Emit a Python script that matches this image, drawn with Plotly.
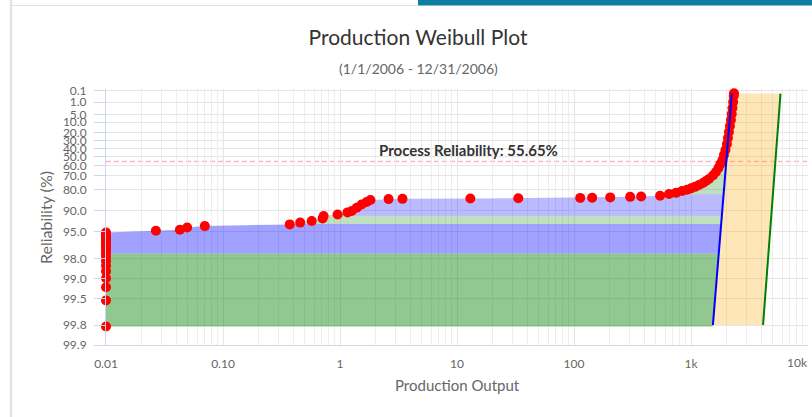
import numpy as np
import plotly.graph_objects as go

# ---- data -------------------------------------------------------------
# Daily production output (days with no output sit on the 0.01 floor)
output = [
    0.01, 0.01, 0.01, 0.01, 0.01, 0.01, 0.01, 0.01, 0.01,
    0.01, 0.01, 0.01, 0.01, 0.01, 0.01, 0.01, 0.01, 0.01,
    0.0267, 0.0428, 0.0494, 0.0699, 0.372, 0.457, 0.573, 0.710, 0.724,
    0.954, 1.16, 1.26, 1.39, 1.53, 1.69, 1.82, 2.60, 3.42, 13.0, 33.4,
    113, 143, 204, 302, 375, 544, 649, 745, 838, 925, 1000, 1082, 1170,
    1266, 1343, 1424, 1541, 1634, 1716, 1785, 1857, 1912, 1970, 2029,
    2069, 2110, 2152, 2194, 2229, 2260, 2291, 2318, 2330,
]
# Plotted reliability (%) for each day
reliability_pct = [
    99.81, 99.53, 99.26, 98.99, 98.71, 98.44, 98.17, 97.89, 97.62,
    97.35, 97.07, 96.80, 96.52, 96.25, 95.98, 95.70, 95.43, 95.16,
    94.85, 94.68, 94.23, 93.97, 93.61, 93.22, 92.86, 92.24, 91.57,
    91.13, 90.47, 90.05, 88.91, 87.69, 86.65, 85.76, 85.30, 85.20, 85.06, 84.92,
    84.72, 84.64, 84.48, 84.22, 84.02, 83.61, 82.76, 82.09, 81.06, 80.27, 79.40,
    78.42, 77.21, 75.79, 74.28, 72.71, 69.77, 66.59, 62.68, 58.46, 53.96, 48.00,
    41.76, 34.11, 26.58, 19.53, 13.38, 8.39, 4.73, 2.33, 0.97, 0.33, 0.19,
]

# Demonstrated (blue) and nameplate (green) lines: output at the two reliability ends
line_rel_ends = [99.8, 0.2]
demonstrated_ends = [1539, 2234]
nameplate_ends = [4129, 5821]

process_reliability = 55.65

# Loss bands below the data curve (reliability edges, %)
band_edges = [99.81, 97.62, 93.5, 91.5, 82.8, process_reliability]
band_colors = [
    "rgba(0,128,0,0.43)",
    "rgba(0,0,255,0.37)",
    "rgba(0,128,0,0.25)",
    "rgba(0,0,255,0.27)",
    "rgba(0,128,0,0.25)",
]

y_ticks_pct = [0.1, 1, 5, 10, 20, 30, 40, 50, 60, 70, 80, 90, 95, 98, 99, 99.5, 99.8, 99.9]
x_ticks = [0.01, 0.1, 1, 10, 100, 1000]
x_tick_text = ["0.01", "0.10", "1", "10", "100", "1k"]


# ---- Weibull paper scale --------------------------------------------------
def weib(r_pct):
    r = np.asarray(r_pct, dtype=float) / 100.0
    return np.log(-np.log(r))


curve_w = weib(reliability_pct)
curve_lx = np.log10(output)
line_w = weib(line_rel_ends)          # increasing: bottom end first
dem_lx = np.log10(demonstrated_ends)
nam_lx = np.log10(nameplate_ends)


def dem_at(w):
    return np.interp(w, line_w, dem_lx)


def band_polygon(r_lo, r_hi):
    w_lo, w_hi = float(weib(r_lo)), float(weib(r_hi))
    inner = curve_w[(curve_w > w_lo) & (curve_w < w_hi)]
    ws = np.concatenate([[w_lo], inner, [w_hi]])
    left = np.minimum(np.interp(ws, curve_w, curve_lx), dem_at(ws))
    xs = list(10 ** left) + [10 ** dem_at(w_hi), 10 ** dem_at(w_lo)]
    ys = list(ws) + [w_hi, w_lo]
    return xs, ys


fig = go.Figure()

# Efficiency / utilisation gap between the two lines
fig.add_trace(go.Scatter(
    x=[demonstrated_ends[0], nameplate_ends[0], nameplate_ends[1], demonstrated_ends[1]],
    y=[line_w[0], line_w[0], line_w[1], line_w[1]],
    fill="toself", fillcolor="rgba(255,165,0,0.28)", line=dict(width=0),
    mode="lines", hoverinfo="skip", showlegend=False,
))

# Loss bands
for (r_lo, r_hi), col in zip(zip(band_edges[:-1], band_edges[1:]), band_colors):
    bx, by = band_polygon(r_lo, r_hi)
    fig.add_trace(go.Scatter(
        x=bx, y=by, fill="toself", fillcolor=col, line=dict(width=0),
        mode="lines", hoverinfo="skip", showlegend=False,
    ))

# Daily points
fig.add_trace(go.Scatter(
    x=output, y=curve_w, mode="markers", cliponaxis=False,
    marker=dict(color="#ff0000", size=10, line=dict(width=0)),
    showlegend=False,
))

# Demonstrated and nameplate lines
fig.add_trace(go.Scatter(
    x=demonstrated_ends, y=line_w, mode="lines",
    line=dict(color="#0000ff", width=2), showlegend=False,
))
fig.add_trace(go.Scatter(
    x=nameplate_ends, y=line_w, mode="lines",
    line=dict(color="#008000", width=2), showlegend=False,
))

w_proc = float(weib(process_reliability))
fig.add_shape(type="line", xref="paper", x0=0, x1=1, yref="y", y0=w_proc, y1=w_proc,
              line=dict(color="#ffb3bf", width=1.5, dash="5px,3px"), layer="below")

FONT = "Lato, 'Open Sans', sans-serif"
W, H = 812, 417
L, R, T, B = 106, 4, 89, 72
PW, PH = W - L - R, H - T - B


def px_x(px):
    return (px - L) / PW


def px_y(py):
    return (H - B - py) / PH


annotations = [
    dict(text="(1/1/2006 - 12/31/2006)", xref="paper", yref="paper",
         x=px_x(418), y=px_y(68), xanchor="center", yanchor="middle", showarrow=False,
         font=dict(family=FONT, size=14, color="#666666")),
    dict(text="<b>Process Reliability: 55.65%</b>", xref="paper", yref="y",
         x=px_x(468), y=w_proc, xanchor="center", yanchor="bottom", yshift=1, showarrow=False,
         font=dict(family=FONT, size=15, color="#333333")),
    dict(text="10k", xref="paper", yref="paper", x=px_x(797), y=px_y(362),
         xanchor="center", yanchor="middle", showarrow=False,
         font=dict(family=FONT, size=12, color="#666666")),
    dict(text="Production Output", xref="paper", yref="paper", x=px_x(457), y=px_y(385),
         xanchor="center", yanchor="middle", showarrow=False,
         font=dict(family=FONT, size=15, color="#666666")),
    dict(text="Reliability (%)", xref="paper", yref="paper", x=px_x(45), y=px_y(217),
         xanchor="center", yanchor="middle", textangle=-90, showarrow=False,
         font=dict(family=FONT, size=16, color="#666666")),
]

shapes = [
    # header accent bar and tab rule
    dict(type="rect", xref="paper", yref="paper", x0=px_x(418), x1=px_x(W + 2),
         y0=px_y(5.5), y1=px_y(-1), fillcolor="#0e7ea0", line=dict(width=0), layer="above"),
    dict(type="line", xref="paper", yref="paper", x0=px_x(11), x1=px_x(418),
         y0=px_y(5.5), y1=px_y(5.5), line=dict(color="#e0e0e0", width=1)),
    # panel border on the left
    dict(type="line", xref="paper", yref="paper", x0=px_x(11), x1=px_x(11),
         y0=px_y(H + 2), y1=px_y(-2), line=dict(color="#e3e3e3", width=2.5)),
]
for s in shapes:
    fig.add_shape(**s)

minor_x = [m * 10.0 ** e for e in range(-2, 4) for m in range(2, 10)]

fig.update_layout(
    width=W, height=H,
    margin=dict(l=L, r=R, t=T, b=B),
    paper_bgcolor="#ffffff", plot_bgcolor="#ffffff",
    font=dict(family=FONT, color="#666666"),
    title=dict(text="Production Weibull Plot", xref="container", yref="container",
               x=418 / W, y=1 - 38 / H, xanchor="center", yanchor="middle",
               font=dict(family=FONT, size=21, color="#333333")),
    annotations=annotations,
    showlegend=False,
    xaxis=dict(
        type="log", range=[-2, 4],
        tickmode="array", tickvals=x_ticks, ticktext=x_tick_text,
        showgrid=True, gridcolor="#e6e6e6", gridwidth=1,
        minor=dict(tickmode="array", tickvals=minor_x, showgrid=True,
                   gridcolor="#eeeeee", gridwidth=1),
        showline=True, linecolor="#ccd6eb", linewidth=1,
        ticks="", ticklabelstandoff=8,
        tickfont=dict(family=FONT, size=12, color="#666666"),
        zeroline=False,
    ),
    yaxis=dict(
        range=[float(weib(99.9)), 1.985],
        tickmode="array", tickvals=list(weib(y_ticks_pct)),
        ticktext=[f"{v:.1f}" for v in y_ticks_pct],
        showgrid=True, gridcolor="#e6e6e6", gridwidth=1,
        showline=True, linecolor="#ccd6eb", linewidth=1,
        ticks="outside", ticklen=11, tickcolor="#ccd6eb", ticklabelstandoff=5,
        tickfont=dict(family=FONT, size=12, color="#666666"),
        zeroline=False,
    ),
)

fig.write_html("out.html")
